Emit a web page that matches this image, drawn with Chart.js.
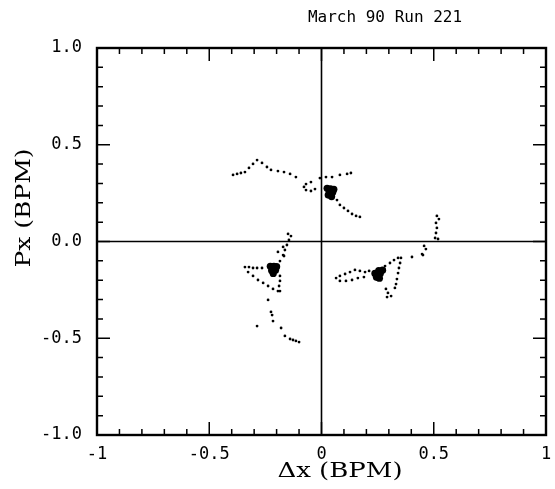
<!DOCTYPE html>
<html>
<head>
<meta charset="utf-8">
<script src="https://cdn.jsdelivr.net/npm/chart.js@4/dist/chart.umd.min.js"></script>
<style>
  html, body { margin: 0; padding: 0; background: #fff; }
  #c { display: block; }
</style>
</head>
<body>
<canvas id="c" width="555" height="489"></canvas>
<script>
// ---- Data ----
const chartTitle = "March 90 Run 221";
const xAxisTitle = "Δx (BPM)";
const yAxisTitle = "Px (BPM)";

const xTickValues = [-1, -0.5, 0, 0.5, 1];
const xTickLabels = ["-1", "-0.5", "0", "0.5", "1"];
const yTickValues = [-1, -0.5, 0, 0.5, 1];
const yTickLabels = ["-1.0", "-0.5", "0.0", "0.5", "1.0"];
const minorStep = 0.1;

// Upper cluster (track points)
const upperDx = [-0.394, -0.376, -0.359, -0.341, -0.323, -0.305, -0.287, -0.265, -0.243, -0.225,
  -0.194, -0.167, -0.140, -0.114, -0.047, -0.069, -0.078, -0.069, -0.047, -0.029,
  -0.007, 0.020, 0.047, 0.082, 0.114, 0.131,
  0.069, 0.082, 0.100, 0.118, 0.136, 0.154, 0.171];
const upperPx = [0.344, 0.349, 0.354, 0.359, 0.380, 0.401, 0.421, 0.406, 0.385, 0.370,
  0.364, 0.359, 0.349, 0.333, 0.307, 0.297, 0.282, 0.266, 0.261, 0.271,
  0.328, 0.333, 0.333, 0.344, 0.349, 0.354,
  0.214, 0.189, 0.173, 0.158, 0.142, 0.132, 0.127];

// Lower-left cluster (track points)
const leftDx = [-0.149, -0.136, -0.145, -0.154, -0.163, -0.171, -0.171, -0.194, -0.167, -0.185,
  -0.341, -0.323, -0.305, -0.287, -0.265,
  -0.327, -0.305, -0.283, -0.260, -0.238, -0.216, -0.194,
  -0.185, -0.185, -0.189, -0.185,
  -0.238, -0.225, -0.220, -0.216, -0.287, -0.180, -0.163, -0.140, -0.127, -0.114, -0.100];
const leftPx = [0.039, 0.028, 0.008, -0.018, -0.044, -0.070, -0.028, -0.054, -0.075, -0.101,
  -0.132, -0.132, -0.137, -0.137, -0.137,
  -0.158, -0.178, -0.199, -0.214, -0.230, -0.245, -0.256,
  -0.178, -0.204, -0.230, -0.256,
  -0.302, -0.364, -0.380, -0.411, -0.437, -0.447, -0.488, -0.504, -0.509, -0.514, -0.520];

// Lower-right cluster (track points)
const rightDx = [0.514, 0.523, 0.510, 0.514, 0.510, 0.506, 0.519,
  0.457, 0.465, 0.448, 0.452, 0.403,
  0.283, 0.305, 0.323, 0.341, 0.354,
  0.350, 0.345, 0.341, 0.336, 0.332, 0.327,
  0.287, 0.296, 0.310, 0.292,
  0.065, 0.082, 0.105, 0.127, 0.149, 0.171, 0.194, 0.212,
  0.082, 0.109, 0.136, 0.162, 0.189];
const rightPx = [0.132, 0.116, 0.096, 0.070, 0.044, 0.018, 0.013,
  -0.023, -0.039, -0.065, -0.070, -0.080,
  -0.127, -0.111, -0.096, -0.085, -0.085,
  -0.111, -0.137, -0.163, -0.194, -0.220, -0.240,
  -0.245, -0.266, -0.282, -0.287,
  -0.189, -0.178, -0.168, -0.158, -0.147, -0.152, -0.158, -0.152,
  -0.204, -0.204, -0.199, -0.189, -0.184];

// Dense cores (the solid blobs)
const coreDx = [0.025, 0.040, 0.055, 0.035, 0.050, 0.030, 0.045,
  -0.228, -0.212, -0.200, -0.222, -0.215, -0.205,
  0.238, 0.255, 0.272, 0.250, 0.262, 0.245, 0.258];
const corePx = [0.275, 0.272, 0.270, 0.255, 0.255, 0.240, 0.232,
  -0.128, -0.128, -0.130, -0.150, -0.165, -0.148,
  -0.165, -0.150, -0.148, -0.175, -0.165, -0.185, -0.190];

// ---- Build datasets ----
function pts(xs, ys) { return xs.map((x, i) => ({ x: x, y: ys[i] })); }

const trackStyle = { showLine: false, pointRadius: 1.4, pointHoverRadius: 1.4,
  backgroundColor: '#000', borderColor: '#000', borderWidth: 0 };

const monoFont = "'DejaVu Sans Mono', monospace";
const serifFont = "'DejaVu Serif', serif";

const framePlugin = {
  id: 'framePlugin',
  beforeDatasetsDraw(chart) {
    const { ctx, chartArea: a, scales: { x, y } } = chart;
    ctx.save();
    ctx.strokeStyle = '#000';
    // zero lines
    ctx.lineWidth = 1.6;
    const x0 = x.getPixelForValue(0), y0 = y.getPixelForValue(0);
    ctx.beginPath();
    ctx.moveTo(x0, a.top); ctx.lineTo(x0, a.bottom);
    ctx.moveTo(a.left, y0); ctx.lineTo(a.right, y0);
    ctx.stroke();
    // inward ticks
    ctx.lineWidth = 1.5;
    ctx.beginPath();
    for (let k = -10; k <= 10; k++) {
      const v = k * minorStep;
      const major = (k % 5 === 0);
      const len = major ? 13 : 6;
      const px = x.getPixelForValue(v);
      const py = y.getPixelForValue(v);
      ctx.moveTo(px, a.bottom); ctx.lineTo(px, a.bottom - len);
      ctx.moveTo(px, a.top); ctx.lineTo(px, a.top + len);
      ctx.moveTo(a.left, py); ctx.lineTo(a.left + len, py);
      ctx.moveTo(a.right, py); ctx.lineTo(a.right - len, py);
    }
    ctx.stroke();
    // frame
    ctx.lineWidth = 2.4;
    ctx.strokeRect(a.left, a.top, a.right - a.left, a.bottom - a.top);
    ctx.restore();
  },
  afterDraw(chart) {
    const { ctx } = chart;
    ctx.save();
    ctx.fillStyle = '#000';
    ctx.textAlign = 'center';
    ctx.textBaseline = 'middle';
    // title
    ctx.font = "16px " + monoFont;
    ctx.fillText(chartTitle, 385, 18);
    // x axis title
    ctx.save();
    ctx.translate(340, 472);
    ctx.scale(1.3, 1);
    ctx.font = "20px " + serifFont;
    ctx.fillText(xAxisTitle, 0, 0);
    ctx.restore();
    // y axis title
    ctx.save();
    ctx.translate(25, 208);
    ctx.rotate(-Math.PI / 2);
    ctx.scale(1.25, 1);
    ctx.font = "20px " + serifFont;
    ctx.fillText(yAxisTitle, 0, 0);
    ctx.restore();
    ctx.restore();
  }
};

new Chart(document.getElementById('c'), {
  type: 'scatter',
  data: {
    datasets: [
      Object.assign({ label: 'upper', data: pts(upperDx, upperPx) }, trackStyle),
      Object.assign({ label: 'left', data: pts(leftDx, leftPx) }, trackStyle),
      Object.assign({ label: 'right', data: pts(rightDx, rightPx) }, trackStyle),
      { label: 'core', data: pts(coreDx, corePx), showLine: false, pointRadius: 3.6,
        backgroundColor: '#000', borderColor: '#000', borderWidth: 0 }
    ]
  },
  options: {
    responsive: false,
    animation: false,
    events: [],
    layout: { padding: { top: 48, right: 9, left: 0, bottom: 0 } },
    plugins: { legend: { display: false }, tooltip: { enabled: false }, title: { display: false } },
    scales: {
      x: {
        type: 'linear', min: -1, max: 1,
        grid: { display: false, drawTicks: false },
        border: { display: false },
        afterBuildTicks(scale) { scale.ticks = xTickValues.map(v => ({ value: v })); },
        afterFit(scale) { scale.height = 54; scale.paddingLeft = 0; scale.paddingRight = 0; },
        ticks: {
          padding: 9, maxRotation: 0, autoSkip: false, color: '#000',
          font: { family: monoFont, size: 17 },
          callback(v) { const i = xTickValues.indexOf(v); return i >= 0 ? xTickLabels[i] : ''; }
        }
      },
      y: {
        type: 'linear', min: -1, max: 1,
        grid: { display: false, drawTicks: false },
        border: { display: false },
        afterBuildTicks(scale) { scale.ticks = yTickValues.map(v => ({ value: v })); },
        afterFit(scale) { scale.width = 97; scale.paddingTop = 0; scale.paddingBottom = 0; },
        ticks: {
          padding: 15, autoSkip: false, color: '#000',
          font: { family: monoFont, size: 17 },
          callback(v) { const i = yTickValues.indexOf(v); return i >= 0 ? yTickLabels[i] : ''; }
        }
      }
    }
  },
  plugins: [framePlugin]
});
</script>
</body>
</html>
